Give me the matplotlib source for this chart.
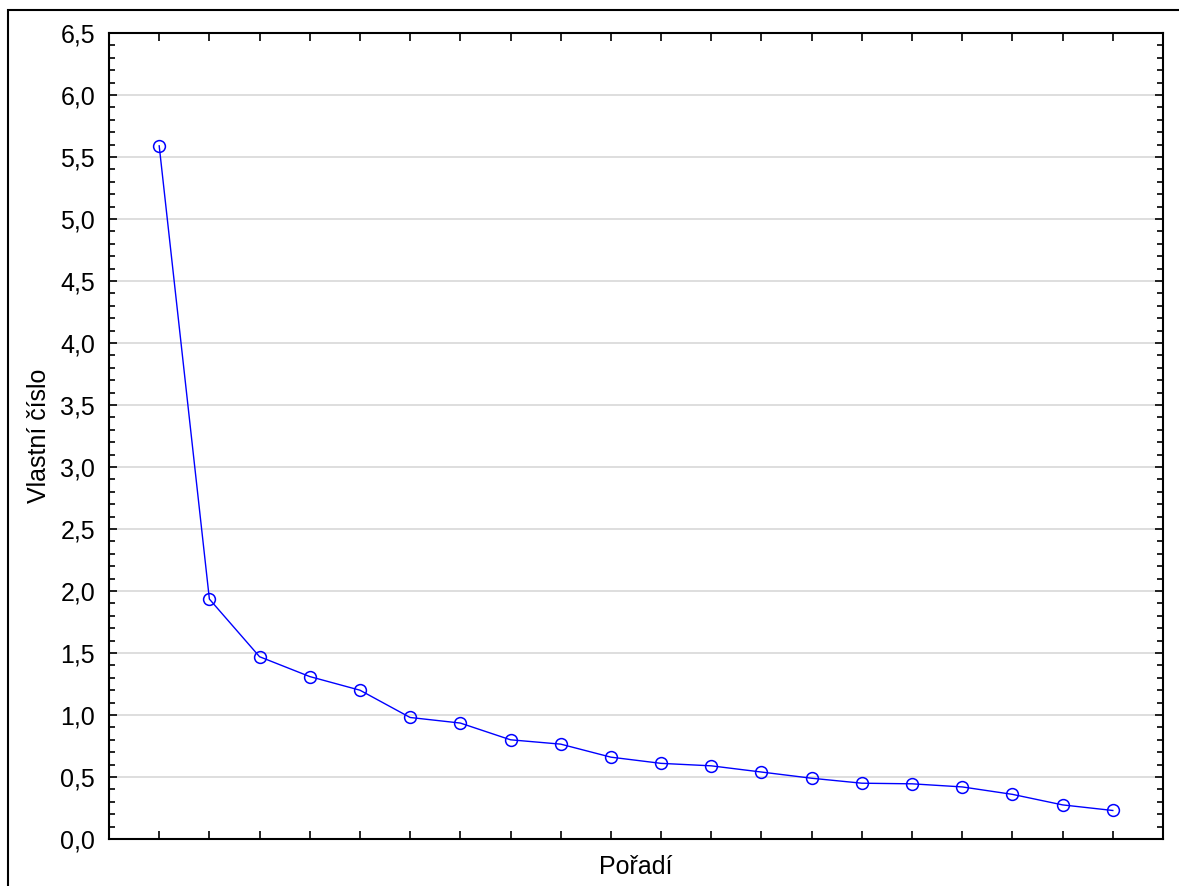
import matplotlib
matplotlib.use("Agg")
import matplotlib.pyplot as plt
from matplotlib.ticker import MultipleLocator, FuncFormatter
from matplotlib.patches import Rectangle

plt.rcParams['font.family'] = ['Liberation Sans', 'DejaVu Sans']

# scree plot values
poradi = list(range(1, 21))
vlastni_cislo = [5.59, 1.935, 1.47, 1.31, 1.20, 0.98, 0.935, 0.80, 0.765, 0.66,
                 0.61, 0.59, 0.54, 0.49, 0.45, 0.445, 0.42, 0.36, 0.275, 0.23]

W, H = 1179, 886
fig = plt.figure(figsize=(W / 100, H / 100), dpi=100)
ax = fig.add_axes([109 / W, 1 - 839 / H, (1163 - 109) / W, (839 - 33) / H])

# outer frame around the whole graph (runs off the right and bottom edge)
fig.patches.append(Rectangle((8 / W, -0.05), 1.2, 1.05 - 10 / H, transform=fig.transFigure,
                             fill=False, edgecolor='black', linewidth=1.5))

ax.plot(poradi, vlastni_cislo, color='#0000ff', linewidth=1.0, marker='o',
        markersize=8.5, markerfacecolor='none', markeredgecolor='#0000ff',
        markeredgewidth=1.1, zorder=3)

ax.set_xlim(0, 21)
ax.set_ylim(0, 6.5)
ax.xaxis.set_major_locator(MultipleLocator(1))
ax.yaxis.set_major_locator(MultipleLocator(0.5))
ax.yaxis.set_minor_locator(MultipleLocator(0.1))
ax.yaxis.set_major_formatter(FuncFormatter(lambda v, p: f"{v:.1f}".replace('.', ',')))
ax.set_xticks(poradi)
ax.set_xticklabels([])

ax.tick_params(axis='both', which='both', direction='in', top=True, right=True,
               width=1.2, labelsize=18)
ax.tick_params(axis='x', which='major', length=6)
ax.tick_params(axis='y', which='major', length=6, pad=10)
ax.tick_params(axis='y', which='minor', length=4)

ax.grid(axis='y', which='major', color='#d8d8d8', linewidth=1.2)
ax.set_axisbelow(True)
for s in ax.spines.values():
    s.set_linewidth(1.5)

ax.set_xlabel("Pořadí", fontsize=18, labelpad=8)
ax.set_ylabel("Vlastní číslo", fontsize=18, labelpad=7)

fig.savefig("out.png", dpi=100)
